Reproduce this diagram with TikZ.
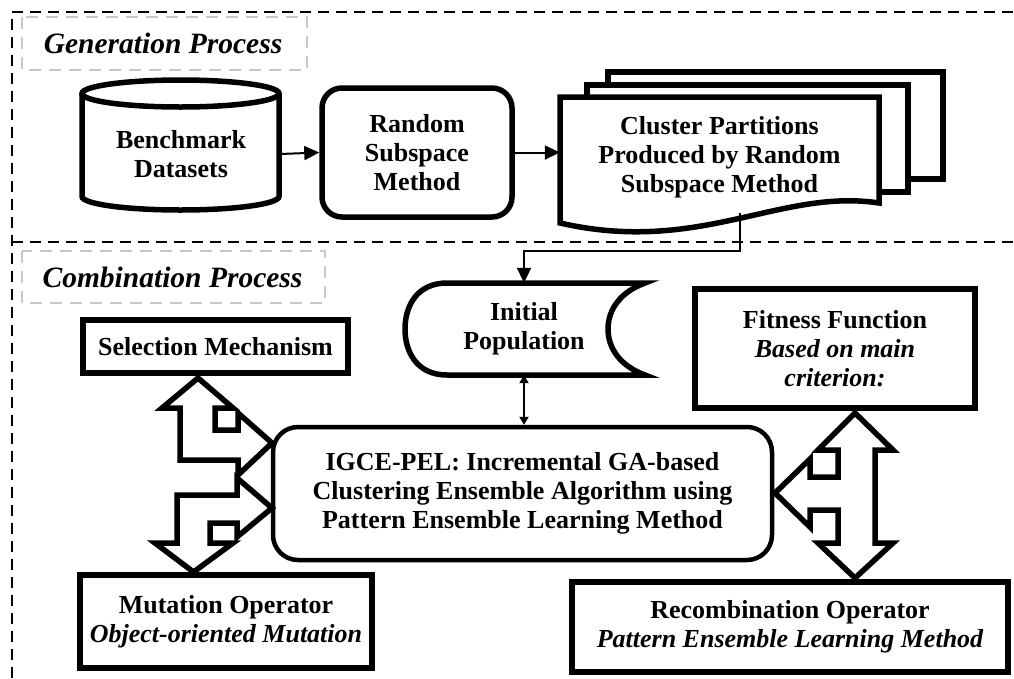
\documentclass[tikz,border=0pt]{standalone}
\usepackage{fontspec}
\setmainfont{Liberation Serif}
\usetikzlibrary{arrows.meta}
\begin{document}
\begin{tikzpicture}[x=1pt,y=-1pt,
  txt/.style={align=center,inner sep=0pt,font=\fontsize{26}{29}\selectfont\bfseries},
  heavy/.style={draw,line width=5.5pt},
  blockarrow/.style={draw,line width=5.5pt,fill=white,line join=miter},
  outerdash/.style={draw,line width=2.5pt,dash pattern=on 11pt off 7pt},
  labelbox/.style={draw=black!22,line width=2pt,dash pattern=on 12pt off 8pt},
  labeltxt/.style={inner sep=0pt,font=\fontsize{29.5}{32}\selectfont\bfseries\itshape},
  flow/.style={line width=2pt,-{Triangle[length=15pt,width=14pt]}},
  smallflow/.style={line width=2pt,{Triangle[length=8pt,width=9pt]}-{Triangle[length=8pt,width=9pt]}}]
\useasboundingbox (0,0) rectangle (1014,678);
% outer dashed frame and separator
\draw[outerdash] (12,678) -- (12,12) -- (1014,12);
\draw[outerdash] (12,242) -- (1014,242);
% section labels
\draw[labelbox] (22,17) rectangle (307,70);
\node[labeltxt] (genlab) at (163,43.5) {Generation Process};
\draw[labelbox] (22,251) rectangle (325,303);
\node[labeltxt] (comblab) at (172.5,277) {Combination Process};
% cylinder
\draw[line width=5.5pt,fill=white] (82,93.5) -- (82,196.5) arc[start angle=180,end angle=0,x radius=98.5,y radius=13.5] -- (279,93.5);
\draw[line width=5.5pt,fill=white] (180.5,93.5) ellipse[x radius=98.5,y radius=13.5];
\node[txt,minimum width=198pt] (bench) at (181,154) {Benchmark\\Datasets};
% random subspace
\node[txt,heavy,rounded corners=20pt,minimum width=190pt,minimum height=129pt] (rsm) at (417,152.5) {Random\\Subspace\\Method};
% document stack
\draw[line width=5.5pt,fill=white] (608,72) rectangle (943,179);
\draw[line width=5.5pt,fill=white] (587,85) rectangle (908,192);
\draw[line width=5.5pt,fill=white,line join=miter] (560,97) -- (879,97) -- (879,203) .. controls (780,188) and (700,255) .. (560,223) -- cycle;
\node[txt,minimum width=319pt] (doc) at (719.5,157) {Cluster Partitions\\Produced by Random\\Subspace Method};
\coordinate (docb) at (740,213);
\draw[flow] (bench.east) -- (rsm.west);
\draw[flow] (rsm.east) -- (rsm.east -| doc.west);
% initial population
\draw[line width=5.5pt,fill=white] (447,283) -- (645,283) .. controls (620,292) and (608,310) .. (608,329) .. controls (608,348) and (620,366) .. (645,375) -- (447,375) .. controls (417,375) and (405,352) .. (405,329) .. controls (405,306) and (417,283) .. (447,283) -- cycle;
\node[txt,minimum width=240pt,minimum height=92pt] (init) at (524,329) {Initial\\Population};
\draw[flow] (docb) -- (740,251) -| (init.north);
% central box
\node[txt,draw,line width=4.5pt,rounded corners=25pt,minimum width=499pt,minimum height=133pt] (igce) at (522.5,493.5) {IGCE-PEL: Incremental GA-based\\Clustering Ensemble Algorithm using\\Pattern Ensemble Learning Method};
\draw[smallflow] (init.south) -- (init.south |- igce.north);
% other boxes
\node[txt,heavy,minimum width=265pt,minimum height=53pt] (sel) at (215.5,346.5) {Selection Mechanism};
\node[txt,heavy,minimum width=292pt,minimum height=93pt] (mut) at (226,621.5) {Mutation Operator\\\itshape Object-oriented Mutation};
\node[txt,heavy,minimum width=280pt,minimum height=119pt] (fit) at (835,348.5) {Fitness Function\\\itshape Based on main\\\itshape criterion:};
\node[txt,heavy,minimum width=436pt,minimum height=90pt] (rec) at (790,627) {Recombination Operator\\\itshape Pattern Ensemble Learning Method};
% block arrows left
\draw[blockarrow] (198,378) -- (233,408) -- (215,408) -- (215,430) -- (238,430) -- (238,413) -- (272,443) -- (238,475) -- (238,460) -- (180,460) -- (180,408) -- (162,408) -- cycle;
\draw[blockarrow] (272,508) -- (237,537) -- (237,523) -- (210,523) -- (210,543) -- (233,543) -- (193.5,572) -- (155,543) -- (177,543) -- (177,495) -- (237,495) -- (237,478) -- cycle;
% block arrow right
\draw[blockarrow] (855,413) -- (893,450) -- (875,450) -- (875,543) -- (893,543) -- (855,578) -- (818,543) -- (838,543) -- (838,510) -- (810,510) -- (810,527) -- (775,493) -- (810,459) -- (810,477) -- (838,477) -- (838,450) -- (818,450) -- cycle;
\end{tikzpicture}
\end{document}
